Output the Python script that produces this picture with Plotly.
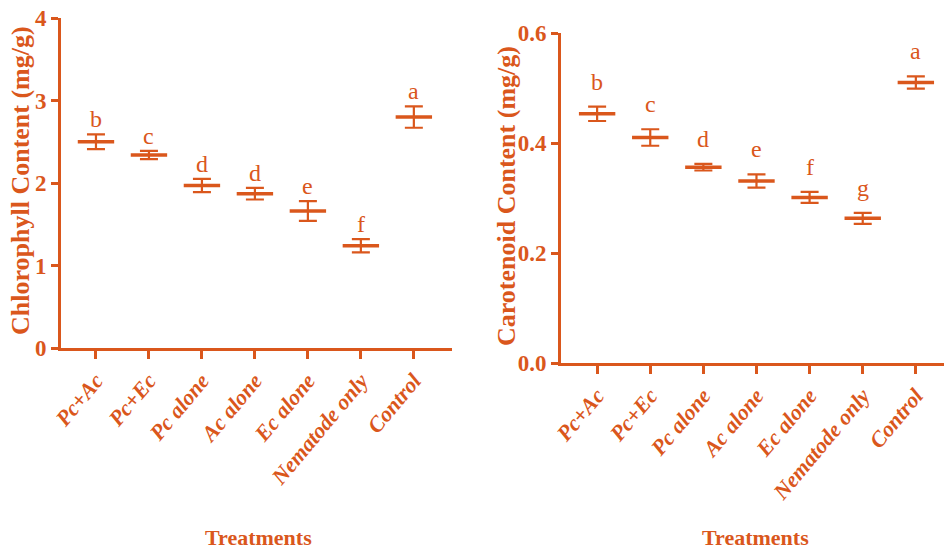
import plotly.graph_objects as go

categories = ["Pc+Ac", "Pc+Ec", "Pc alone", "Ac alone", "Ec alone", "Nematode only", "Control"]

chl_mean = [2.50, 2.34, 1.97, 1.87, 1.66, 1.24, 2.80]
chl_err = [0.09, 0.05, 0.08, 0.07, 0.12, 0.08, 0.13]
chl_letters = ["b", "c", "d", "d", "e", "f", "a"]

car_mean = [0.453, 0.410, 0.356, 0.331, 0.301, 0.263, 0.510]
car_err = [0.013, 0.015, 0.006, 0.012, 0.010, 0.010, 0.011]
car_letters = ["b", "c", "d", "e", "f", "g", "a"]

C = "#DA571C"
SERIF = "Liberation Serif"
W, H = 944, 553


def px(x):
    return x / W


def py(y):
    return 1 - y / H


fig = go.Figure()

for xa, ya, means, errs in (("x", "y", chl_mean, chl_err), ("x2", "y2", car_mean, car_err)):
    fig.add_trace(go.Scatter(
        x=categories, y=means, mode="markers", xaxis=xa, yaxis=ya,
        marker=dict(symbol="line-ew", size=26, line=dict(color=C, width=3.5), color=C),
        error_y=dict(type="data", array=errs, visible=True, color=C, thickness=2.2, width=9),
        showlegend=False, cliponaxis=False, hoverinfo="skip"))

annotations = []
for cat, m, e, L in zip(categories, chl_mean, chl_err, chl_letters):
    annotations.append(dict(x=cat, y=m + e, xref="x", yref="y", text=L, showarrow=False,
                            xanchor="center", yanchor="bottom", yshift=0,
                            font=dict(family=SERIF, size=24, color=C)))
for cat, m, e, L in zip(categories, car_mean, car_err, car_letters):
    annotations.append(dict(x=cat, y=m + e, xref="x2", yref="y2", text=L, showarrow=False,
                            xanchor="center", yanchor="bottom", yshift=10,
                            font=dict(family=SERIF, size=24, color=C)))

for xc in (258, 755):
    annotations.append(dict(x=px(xc), y=py(537), xref="paper", yref="paper",
                            xanchor="center", yanchor="middle",
                            text="<b>Treatments</b>", showarrow=False,
                            font=dict(family=SERIF, size=22, color=C)))

annotations.append(dict(x=px(21), y=py(181), xref="paper", yref="paper", textangle=-90,
                        xanchor="center", yanchor="middle",
                        text="<b>Chlorophyll Content (mg/g)</b>", showarrow=False,
                        font=dict(family=SERIF, size=26, color=C)))
annotations.append(dict(x=px(506), y=py(196), xref="paper", yref="paper", textangle=-90,
                        xanchor="center", yanchor="middle",
                        text="<b>Carotenoid Content (mg/g)</b>", showarrow=False,
                        font=dict(family=SERIF, size=26, color=C)))

xcommon = dict(type="category", showline=True, linecolor=C, linewidth=3, automargin=False,
               ticks="outside", ticklen=8, tickwidth=2.5, tickcolor=C, tickangle=-50,
               tickfont=dict(family=SERIF, size=22, color=C), showgrid=False, zeroline=False)
ycommon = dict(showline=True, linecolor=C, linewidth=3, ticks="outside", ticklen=7,
               tickwidth=2.5, tickcolor=C, showgrid=False, zeroline=False, automargin=False,
               tickfont=dict(family=SERIF, size=23, color=C))

fig.update_layout(
    width=W, height=H, margin=dict(l=0, r=0, t=0, b=0),
    paper_bgcolor="white", plot_bgcolor="white",
    xaxis=dict(**xcommon, domain=[px(61), px(452)], range=[-0.66, 6.72], anchor="y",
               tickvals=categories, ticktext=[f"<b><i>{c}</i></b>" for c in categories]),
    yaxis=dict(**ycommon, domain=[py(348), py(18)], range=[0, 4], anchor="x",
               tickvals=[0, 1, 2, 3, 4],
               ticktext=["<b>0</b>", "<b>1</b>", "<b>2</b>", "<b>3</b>", "<b>4</b>"]),
    xaxis2=dict(**xcommon, domain=[px(561), 1.0], range=[-0.68, 6.53], anchor="y2",
                tickvals=categories, ticktext=[f"<b><i>{c}</i></b>" for c in categories]),
    yaxis2=dict(**ycommon, domain=[py(363), py(33)], range=[0, 0.6], anchor="x2",
                tickvals=[0, 0.2, 0.4, 0.6],
                ticktext=["<b>0.0</b>", "<b>0.2</b>", "<b>0.4</b>", "<b>0.6</b>"]),
    annotations=annotations,
)

fig.write_html("out.html", config={"displayModeBar": False},
               post_script="document.body.style.margin='0';document.body.style.overflow='hidden';")
